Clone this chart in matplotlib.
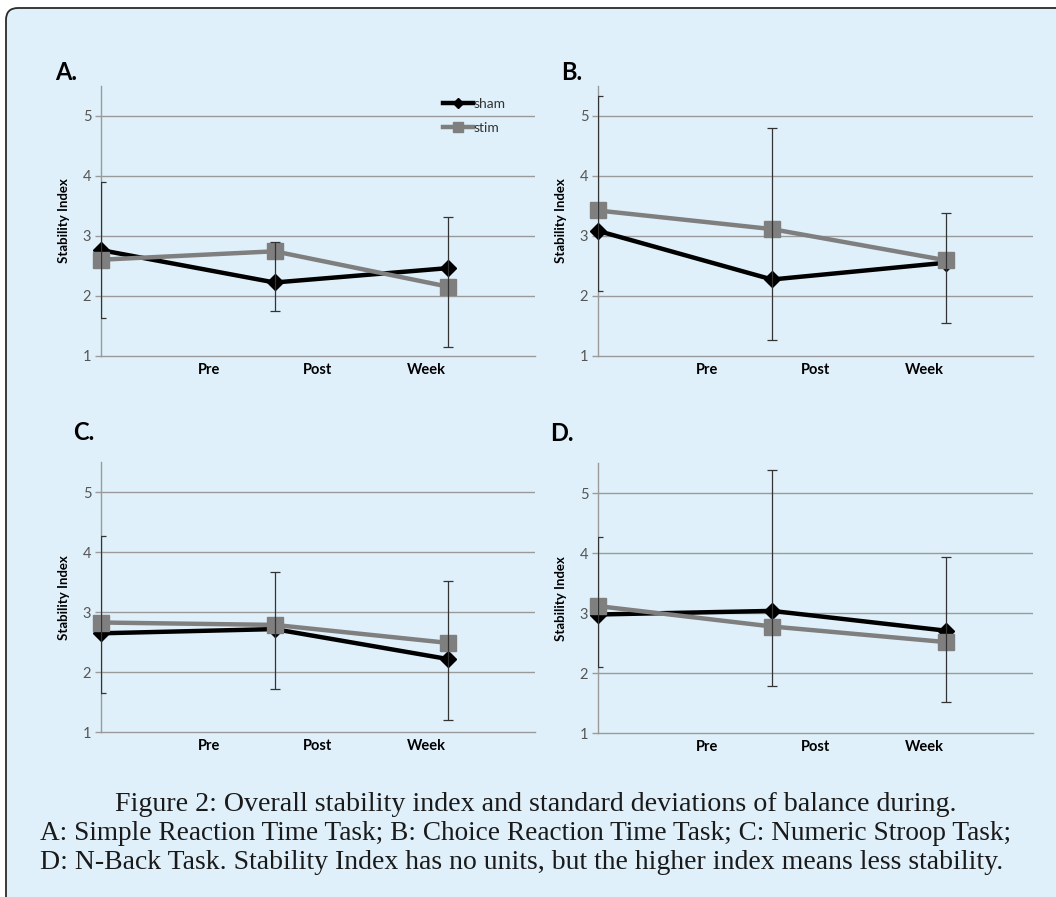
import matplotlib
matplotlib.use('Agg')
import matplotlib.pyplot as plt
from matplotlib.patches import FancyBboxPatch
from matplotlib.lines import Line2D
from matplotlib.transforms import IdentityTransform

plt.rcParams['font.family'] = ['Lato', 'DejaVu Sans']

# data
categories = ['Pre', 'Post', 'Week']
panel_names = ['A.', 'B.', 'C.', 'D.']

sham_a = [2.76, 2.22, 2.46]
stim_a = [2.60, 2.74, 2.15]
err_lo_a = [1.62, 1.74, 1.15]
err_hi_a = [3.89, 2.90, 3.31]

sham_b = [3.08, 2.27, 2.55]
stim_b = [3.42, 3.11, 2.59]
err_lo_b = [2.08, 1.26, 1.55]
err_hi_b = [5.32, 4.79, 3.38]

sham_c = [2.65, 2.72, 2.22]
stim_c = [2.83, 2.79, 2.49]
err_lo_c = [1.65, 1.72, 1.21]
err_hi_c = [4.27, 3.68, 3.52]

sham_d = [2.98, 3.04, 2.71]
stim_d = [3.12, 2.78, 2.52]
err_lo_d = [2.11, 1.79, 1.52]
err_hi_d = [4.28, 5.38, 3.94]

caption = ['Figure 2: Overall stability index and standard deviations of balance during.',
           'A: Simple Reaction Time Task; B: Choice Reaction Time Task; C: Numeric Stroop Task;',
           'D: N-Back Task. Stability Index has no units, but the higher index means less stability.']

W, H = 1056, 897
BG = '#dff0fa'
GRID = '#9a9a9a'

fig = plt.figure(figsize=(W / 100, H / 100), dpi=100, facecolor='white')

# rounded light blue frame
frame = FancyBboxPatch((6, -30), 1100, H - 8 + 30,
                       boxstyle='round,pad=0,rounding_size=12',
                       transform=IdentityTransform(), facecolor=BG,
                       edgecolor='#2a2a2a', linewidth=1.3, zorder=-5)
fig.patches.append(frame)


def px_axes(left, right, y_one, y_top):
    # y_one / y_top: pixel rows (from top) of value 1 and top of axis
    ax = fig.add_axes([left / W, 1 - y_one / H, (right - left) / W, (y_one - y_top) / H])
    ax.set_zorder(2)
    return ax


def draw_panel(ax, sham, stim, err_lo, err_hi, letter, lpos, legend=False):
    xs = list(range(len(categories)))
    ax.set_facecolor('none')
    ax.set_xlim(0, 2.5)
    ax.set_ylim(1, 5.5)
    for s in ['top', 'right']:
        ax.spines[s].set_visible(False)
    for s in ['left', 'bottom']:
        ax.spines[s].set_color(GRID)
        ax.spines[s].set_linewidth(1.0)
    ax.set_yticks([1, 2, 3, 4, 5])
    for v in [2, 3, 4, 5]:
        ax.axhline(v, color=GRID, lw=1.0, zorder=1)
    ax.tick_params(axis='y', length=4, width=1.0, color=GRID, labelsize=10.5,
                   labelcolor='#555555', pad=3)
    ax.set_xticks([0.625, 1.25, 1.875])
    ax.set_xticklabels(categories, fontsize=10.5, fontweight='bold')
    ax.tick_params(axis='x', length=0, pad=5)
    ax.set_ylabel('Stability Index', fontsize=9.5, fontweight='bold', labelpad=9)

    ax.plot(xs, sham, color='black', lw=3.2, marker='D', markersize=8.5,
            zorder=3, clip_on=False, solid_capstyle='round')
    ax.plot(xs, stim, color='#7f7f7f', lw=3.2, marker='s', markersize=11.5,
            zorder=4, clip_on=False)
    ups = [hi - lo for lo, hi in zip(err_lo, err_hi)]
    ax.errorbar(xs, err_lo, yerr=[[0] * len(xs), ups], fmt='none', ecolor='#333333',
                elinewidth=0.9, capsize=3.5, capthick=0.9, zorder=5)

    ax.text(lpos[0], lpos[1], letter, transform=ax.transAxes, fontsize=17,
            fontweight='bold', ha='left', va='center')

    if legend:
        h = [Line2D([], [], color='black', lw=3.2, marker='D', markersize=5),
             Line2D([], [], color='#7f7f7f', lw=3.2, marker='s', markersize=7)]
        ax.legend(h, ['sham', 'stim'], loc='upper left', bbox_to_anchor=(0.787, 0.955),
                  frameon=False, fontsize=10, handlelength=2.2, handletextpad=0.05,
                  labelspacing=0.85, borderpad=0, borderaxespad=0, labelcolor='#333333')


ax_a = px_axes(101, 535, 355.7, 85.7)
ax_b = px_axes(598, 1033, 355.7, 85.7)
ax_c = px_axes(101, 535, 732.3, 462.3)
ax_d = px_axes(598, 1033, 733.3, 463.3)

draw_panel(ax_a, sham_a, stim_a, err_lo_a, err_hi_a, panel_names[0], (-0.105, 1.05), legend=True)
draw_panel(ax_b, sham_b, stim_b, err_lo_b, err_hi_b, panel_names[1], (-0.085, 1.05))
draw_panel(ax_c, sham_c, stim_c, err_lo_c, err_hi_c, panel_names[2], (-0.065, 1.11))
draw_panel(ax_d, sham_d, stim_d, err_lo_d, err_hi_d, panel_names[3], (-0.11, 1.11))

cap_font = dict(family='Liberation Serif', color='#1a1a1a', va='baseline', ha='left')
fig.text(115 / W, 1 - 811 / H, caption[0], fontsize=20.2, **cap_font)
fig.text(40 / W, 1 - 840 / H, caption[1], fontsize=19.6, **cap_font)
fig.text(40 / W, 1 - 869 / H, caption[2], fontsize=20.0, **cap_font)

fig.savefig('out.png', dpi=100, facecolor='white')
